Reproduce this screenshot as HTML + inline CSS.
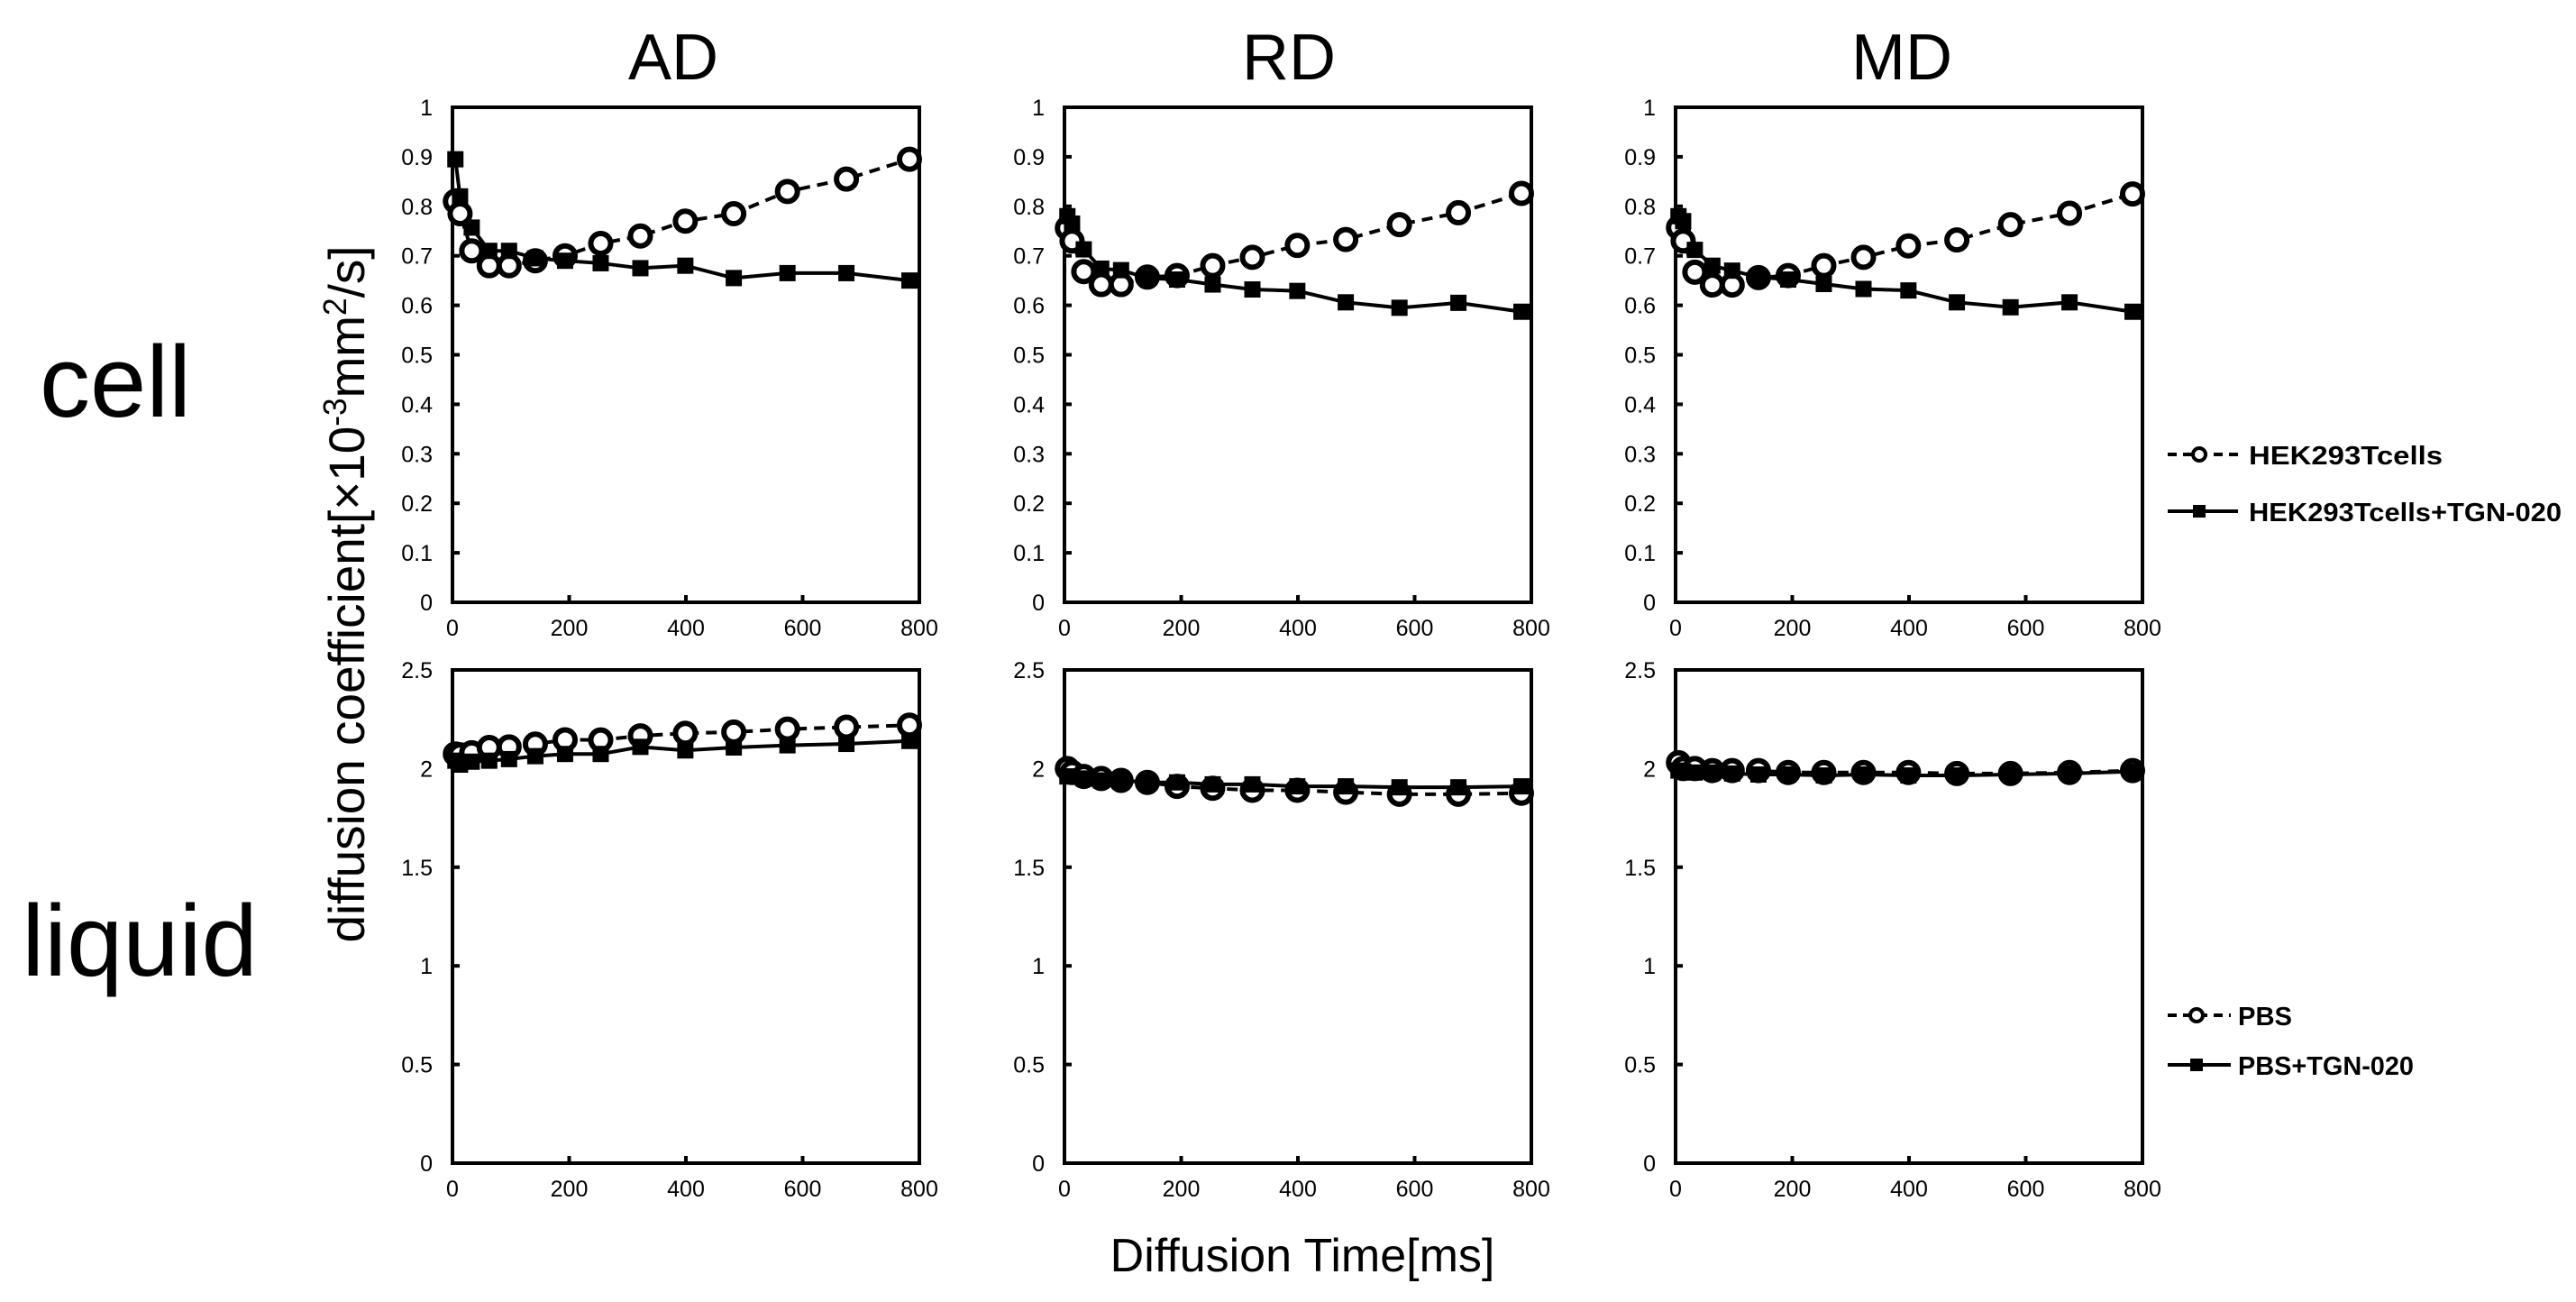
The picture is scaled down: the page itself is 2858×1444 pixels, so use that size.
<!DOCTYPE html>
<html><head><meta charset="utf-8"><style>
html,body{margin:0;padding:0;background:#fff;}
svg{display:block;}
text{font-family:"Liberation Sans",sans-serif;fill:#000;}
</style></head><body>
<svg id="fig" width="2858" height="1444" viewBox="0 0 2858 1444" xmlns="http://www.w3.org/2000/svg">
<text x="747" y="88" font-size="72" text-anchor="middle">AD</text>
<text x="1430" y="88" font-size="72" text-anchor="middle">RD</text>
<text x="2110" y="88" font-size="72" text-anchor="middle">MD</text>
<text x="128" y="462" font-size="112" text-anchor="middle">cell</text>
<text x="155" y="1082" font-size="112" text-anchor="middle">liquid</text>
<text transform="translate(404,659) rotate(-90)" font-size="56" text-anchor="middle" textLength="773" lengthAdjust="spacingAndGlyphs">diffusion coefficient[×10<tspan font-size="36" dy="-20">-3</tspan><tspan dy="20">mm</tspan><tspan font-size="36" dy="-20">2</tspan><tspan dy="20">/s]</tspan></text>
<text x="1445" y="1410" font-size="52" text-anchor="middle">Diffusion Time[ms]</text>
<g id="plots"></g>
<g>
<line x1="2405" y1="504" x2="2483" y2="504" stroke="#000" stroke-width="4" stroke-dasharray="10,7"/>
<circle cx="2440" cy="504" r="7" fill="#fff" stroke="#000" stroke-width="4"/>
<text x="2495" y="515" font-size="29" font-weight="bold" textLength="215" lengthAdjust="spacingAndGlyphs">HEK293Tcells</text>
<line x1="2405" y1="567" x2="2483" y2="567" stroke="#000" stroke-width="4"/>
<rect x="2433" y="560" width="14" height="14" fill="#000"/>
<text x="2495" y="578" font-size="29" font-weight="bold" textLength="347" lengthAdjust="spacingAndGlyphs">HEK293Tcells+TGN-020</text>
</g>
<g>
<line x1="2405" y1="1126" x2="2475" y2="1126" stroke="#000" stroke-width="4" stroke-dasharray="10,7"/>
<circle cx="2437" cy="1126" r="7" fill="#fff" stroke="#000" stroke-width="4"/>
<text x="2483" y="1137" font-size="29" font-weight="bold" textLength="60" lengthAdjust="spacingAndGlyphs">PBS</text>
<line x1="2405" y1="1181" x2="2475" y2="1181" stroke="#000" stroke-width="4"/>
<rect x="2430" y="1174" width="14" height="14" fill="#000"/>
<text x="2483" y="1192" font-size="29" font-weight="bold" textLength="195" lengthAdjust="spacingAndGlyphs">PBS+TGN-020</text>
</g>
</svg>
<script>
const times = [5,13,33,63,97,142,193,254,322,399,482,574,675,783];
const xTicks = [0,200,400,600,800];
const yTicksCell = ["0","0.1","0.2","0.3","0.4","0.5","0.6","0.7","0.8","0.9","1"];
const yTicksLiquid = ["0","0.5","1","1.5","2","2.5"];
const adCellCtrl = [0.81,0.785,0.71,0.68,0.68,0.69,0.70,0.725,0.74,0.77,0.785,0.83,0.855,0.895];
const adCellTgn  = [0.895,0.82,0.757,0.71,0.71,0.695,0.69,0.685,0.675,0.68,0.655,0.665,0.665,0.65];
const rdCellCtrl = [0.756,0.73,0.668,0.642,0.642,0.657,0.66,0.68,0.697,0.721,0.733,0.763,0.787,0.826];
const rdCellTgn  = [0.78,0.765,0.713,0.674,0.671,0.655,0.652,0.642,0.632,0.629,0.606,0.595,0.605,0.587];
const mdCellCtrl = [0.757,0.73,0.667,0.641,0.641,0.656,0.66,0.68,0.697,0.72,0.732,0.763,0.786,0.825];
const mdCellTgn  = [0.78,0.77,0.712,0.68,0.67,0.657,0.652,0.643,0.633,0.63,0.606,0.596,0.606,0.587];
const adLiqCtrl = [2.074,2.07,2.08,2.107,2.11,2.124,2.146,2.145,2.166,2.179,2.185,2.2,2.21,2.22];
const adLiqTgn  = [2.04,2.02,2.035,2.04,2.048,2.063,2.074,2.074,2.11,2.092,2.107,2.118,2.125,2.14];
const rdLiqCtrl = [2.0,1.98,1.96,1.95,1.94,1.93,1.91,1.90,1.89,1.89,1.88,1.87,1.87,1.875];
const rdLiqTgn  = [1.96,1.96,1.95,1.94,1.94,1.93,1.93,1.92,1.92,1.91,1.91,1.905,1.905,1.91];
const mdLiqCtrl = [2.03,2.0,2.0,1.99,1.99,1.99,1.98,1.98,1.98,1.98,1.975,1.975,1.98,1.99];
const mdLiqTgn  = [1.99,1.985,1.98,1.98,1.975,1.97,1.97,1.965,1.97,1.965,1.965,1.97,1.975,1.985];

const NS="http://www.w3.org/2000/svg";
const root=document.getElementById('plots');
function mk(tag,attrs,parent){const e=document.createElementNS(NS,tag);for(const k in attrs)e.setAttribute(k,attrs[k]);parent.appendChild(e);return e;}
const lefts=[502,1181,1859];
const W=518;
const rows=[{top:119,bot:668,max:1,ticks:yTicksCell,name:'cell'},{top:743,bot:1290,max:2.5,ticks:yTicksLiquid,name:'liquid'}];
const panels=[
 ['ad','cell',0,0,adCellCtrl,adCellTgn],['rd','cell',1,0,rdCellCtrl,rdCellTgn],['md','cell',2,0,mdCellCtrl,mdCellTgn],
 ['ad','liquid',0,1,adLiqCtrl,adLiqTgn],['rd','liquid',1,1,rdLiqCtrl,rdLiqTgn],['md','liquid',2,1,mdLiqCtrl,mdLiqTgn]];
panels.forEach(p=>{
 const L=lefts[p[2]],R=rows[p[3]];
 const xs=v=>L+v/800*W;
 const ys=v=>R.bot-v/R.max*(R.bot-R.top);
 const g=mk('g',{},root);
 
 
 const fr=mk('rect',{x:L,y:R.top,width:W,height:R.bot-R.top,fill:'none',stroke:'#000','stroke-width':4},g);
 
 
 R.ticks.forEach(t=>{
  const y=ys(parseFloat(t));
  mk('line',{x1:L,x2:L+8,y1:y,y2:y,stroke:'#000','stroke-width':4},g);
  const tx=mk('text',{x:L-22,y:y+9,'font-size':25,'text-anchor':'end'},g);
  tx.textContent=t;
  
  
 });
 xTicks.forEach(t=>{
  const x=xs(t);
  mk('line',{x1:x,x2:x,y1:R.bot,y2:R.bot-8,stroke:'#000','stroke-width':4},g);
  const tx=mk('text',{x:x,y:R.bot+37,'font-size':25,'text-anchor':'middle'},g);
  tx.textContent=t;
  
  
 });
 const ptsC=times.map((t,i)=>xs(t)+','+ys(p[4][i])).join(' ');
 const ptsT=times.map((t,i)=>xs(t)+','+ys(p[5][i])).join(' ');
 const lt=mk('polyline',{points:ptsT,fill:'none',stroke:'#000','stroke-width':4},g);
 
 
 const lc=mk('polyline',{points:ptsC,fill:'none',stroke:'#000','stroke-width':4,'stroke-dasharray':'12,8'},g);
 
 
 times.forEach((t,i)=>{
  const c=mk('circle',{cx:xs(t),cy:ys(p[4][i]),r:11,fill:'#fff',stroke:'#000','stroke-width':6},g);
  
  
 });
 times.forEach((t,i)=>{
  const s=mk('rect',{x:xs(t)-9,y:ys(p[5][i])-9,width:18,height:18,fill:'#000'},g);
  
  
 });
});
</script>
</body></html>
